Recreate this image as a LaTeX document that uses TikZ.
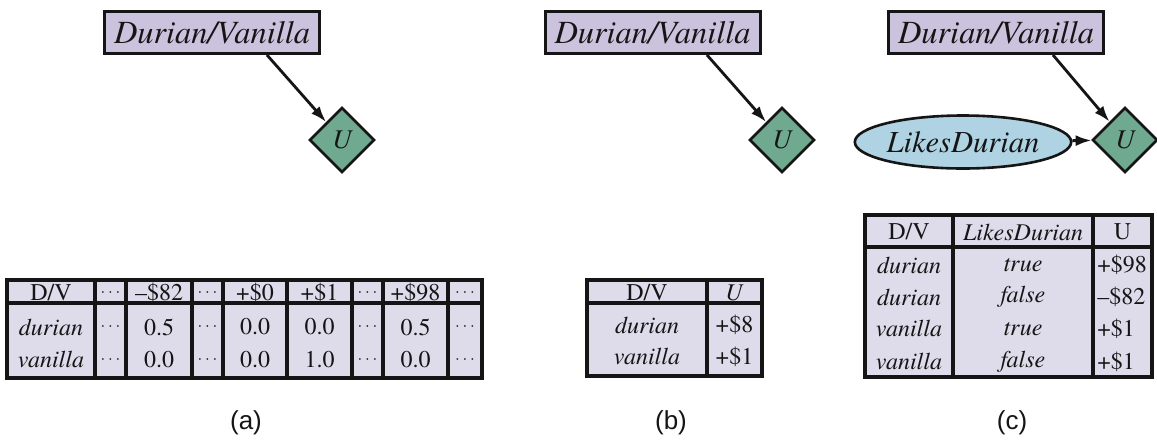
\documentclass[tikz,border=0pt]{standalone}
\usepackage{fontspec}
\setmainfont{texgyretermes}[Extension=.otf, UprightFont=*-regular, ItalicFont=*-italic,
  BoldFont=*-bold, BoldItalicFont=*-bolditalic]
\newfontfamily\capfont{Liberation Sans}
\usetikzlibrary{positioning,arrows.meta,shapes.geometric}
\definecolor{dvfill}{HTML}{CBC3DD}
\definecolor{ufill}{HTML}{6FA98F}
\definecolor{likefill}{HTML}{AFD3E3}
\definecolor{tabfill}{HTML}{DEDBEA}
\definecolor{ink}{HTML}{151515}
\newcommand{\dotsc}{{\fontsize{8}{9}\selectfont$\cdots$}}

\begin{document}
\begin{tikzpicture}[x=0.5pt, y=-0.5pt, >={Latex[length=8pt,width=5.5pt]}, color=ink,
    dv/.style={draw, line width=1.5pt, fill=dvfill, minimum width=107.5pt, minimum height=21pt,
               inner sep=0pt, font=\fontsize{16.2}{18}\selectfont\itshape},
    util/.style={diamond, draw, line width=1.3pt, fill=ufill, minimum width=32.5pt, minimum height=32.5pt,
                 inner sep=0pt, font=\fontsize{13.5}{15}\selectfont\itshape},
    chance/.style={ellipse, draw, line width=1.3pt, fill=likefill, minimum width=87pt, minimum height=26.5pt,
                   inner sep=0pt, font=\fontsize{15.3}{18}\selectfont\itshape},
    edge/.style={->, line width=1.4pt},
    cell/.style={inner sep=0pt, font=\fontsize{12}{13}\selectfont},
    tline/.style={line width=1.6pt},
    captext/.style={font=\capfont\fontsize{13}{15}\selectfont}]
  \useasboundingbox (0,0) rectangle (1157,441);

  % (a) decision node and distribution over outcomes
  \node[dv] (dva) at (212,32.5) {Durian/Vanilla};
  \node[util] (ua) at (342,140) {U};
  \draw[edge] ([xshift=27.5pt]dva.south) -- (ua);

  \fill[tabfill] (7,280) rectangle (482,378);
  \foreach \x in {95,126,192,223,287,352,383,448}
    \draw[tline] (\x,280) -- (\x,378);
  \draw[tline] (7,303) -- (482,303);
  \draw[tline] (7,280) rectangle (482,378);
  \foreach \x/\h/\d/\v [count=\i] in {51/{D/V}/\textit{durian}/\textit{vanilla},
      110.5/\dotsc/\dotsc/\dotsc, 159/--\$82/0.5/0.0, 207.5/\dotsc/\dotsc/\dotsc,
      255/+\$0/0.0/0.0, 319.5/+\$1/0.0/1.0, 367.5/\dotsc/\dotsc/\dotsc,
      415.5/+\$98/0.5/0.0, 465/\dotsc/\dotsc/\dotsc} {
    \node[cell] (ta-h\i) at (\x,293) {\h};
    \node[cell] (ta-d\i) at (\x,327) {\d};
    \node[cell] (ta-v\i) at (\x,360) {\v};
  }
  \node[captext] (capa) at (246,423) {(a)};

  % (b) decision node with expected utilities
  \node[dv] (dvb) at (652.5,32.5) {Durian/Vanilla};
  \node[util] (ub) at (782,140) {U};
  \draw[edge] ([xshift=27.25pt]dvb.south) -- (ub);

  \fill[tabfill] (587,280) rectangle (762,376);
  \draw[tline] (707,280) -- (707,376);
  \draw[tline] (587,303) -- (762,303);
  \draw[tline] (587,280) rectangle (762,376);
  \node[cell] (tb-h1) at (647,293) {D/V};
  \node[cell] (tb-h2) at (734.5,293) {\textit{U}};
  \node[cell] (tb-d1) at (647,325) {\textit{durian}};
  \node[cell] (tb-d2) at (734.5,325) {+\$8};
  \node[cell] (tb-v1) at (647,357) {\textit{vanilla}};
  \node[cell] (tb-v2) at (734.5,357) {+\$1};
  \node[captext] (capb) at (671,423) {(b)};

  % (c) decision node plus chance node
  \node[dv] (dvc) at (996,32.5) {Durian/Vanilla};
  \node[util] (uc) at (1125,140) {U};
  \node[chance] (likes) at (963,142) {LikesDurian};
  \draw[edge] ([xshift=28.5pt]dvc.south) -- (uc);
  \draw[edge] (likes) -- (uc);

  \fill[tabfill] (865,215) rectangle (1152,377);
  \foreach \x in {953,1093}
    \draw[tline] (\x,215) -- (\x,377);
  \draw[tline] (865,247) -- (1152,247);
  \draw[tline] (865,215) rectangle (1152,377);
  \node[cell] (tc-h1) at (909,232) {D/V};
  \node[cell] (tc-h2) at (1023,232) {\textit{LikesDurian}};
  \node[cell] (tc-h3) at (1122.5,232) {U};
  \foreach \y/\d/\l/\u [count=\i] in {265/durian/true/+\$98, 297/durian/false/--\$82,
      329/vanilla/true/+\$1, 362/vanilla/false/+\$1} {
    \node[cell] (tc-d\i) at (909,\y) {\textit{\d}};
    \node[cell] (tc-l\i) at (1023,\y) {\textit{\l}};
    \node[cell, anchor=west] (tc-u\i) at (1097,\y) {\u};
  }
  \node[captext] (capc) at (1012,423) {(c)};
\end{tikzpicture}
\end{document}
